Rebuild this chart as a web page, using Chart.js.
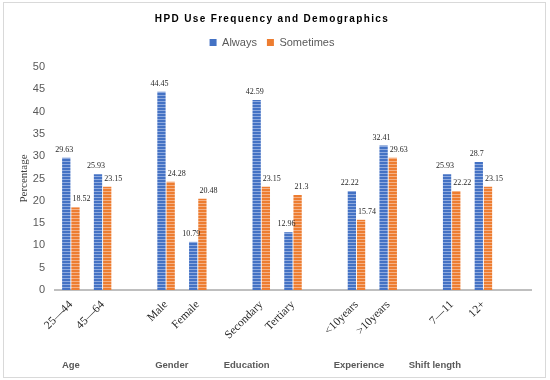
<!DOCTYPE html>
<html>
<head>
<meta charset="utf-8">
<script src="https://cdn.jsdelivr.net/npm/chart.js@4.4.1/dist/chart.umd.min.js"></script>
<style>
  body { margin: 0; background: #fff; }
  #wrap { position: relative; width: 550px; height: 380px; }
  #frame { position: absolute; left: 3px; top: 2px; width: 541px; height: 374px; border: 1px solid #d9d9d9; pointer-events: none; }
</style>
</head>
<body>
<div id="wrap">
  <canvas id="myChart" width="550" height="380"></canvas>
  <div id="frame"></div>
</div>
<script>
// data
const categories = ['25—44', '45—64', '', 'Male', 'Female', '', 'Secondary', 'Tertiary', '', '<10years', '>10years', '', '7—11', '12+', ''];
const always = [29.63, 25.93, null, 44.45, 10.79, null, 42.59, 12.96, null, 22.22, 32.41, null, 25.93, 28.7, null];
const sometimes = [18.52, 23.15, null, 24.28, 20.48, null, 23.15, 21.3, null, 15.74, 29.63, null, 22.22, 23.15, null];
const groupNames = ['Age', 'Gender', 'Education', 'Experience', 'Shift length'];
const yMax = 50;
const yStep = 5;

// where the group captions sit, in category units
const groupAt = [0, 3.18, 5.54, 9.08, 11.47];

const BLUE = '#4472C4';
const ORANGE = '#ED7D31';

// horizontal stripe fill, like the office chart texture
function stripes(base, line) {
  const c = document.createElement('canvas');
  c.width = 4; c.height = 3;
  const g = c.getContext('2d');
  g.fillStyle = base;
  g.fillRect(0, 0, 4, 3);
  g.fillStyle = line;
  g.fillRect(0, 2, 4, 1);
  return g.createPattern(c, 'repeat');
}

const titlePlugin = {
  id: 'hpdTitle',
  beforeInit(chart) {
    // push the plot down a bit below the legend
    const fit = chart.legend.fit;
    chart.legend.fit = function () {
      fit.bind(chart.legend)();
      this.height += 9;
    };
  },
  afterDraw(chart) {
    const ctx = chart.ctx;
    ctx.save();
    ctx.font = 'bold 10px "Liberation Sans", sans-serif';
    ctx.fillStyle = '#000';
    ctx.textAlign = 'center';
    ctx.textBaseline = 'middle';
    ctx.letterSpacing = '1.35px';
    ctx.fillText('HPD Use Frequency and Demographics', 272, 19);
    ctx.restore();
  }
};

const valueLabels = {
  id: 'valueLabels',
  afterDatasetsDraw(chart) {
    const ctx = chart.ctx;
    ctx.save();
    ctx.font = '8px "Liberation Serif", serif';
    ctx.fillStyle = '#262626';
    ctx.textBaseline = 'middle';
    chart.data.datasets.forEach((ds, i) => {
      chart.getDatasetMeta(i).data.forEach((bar, j) => {
        const v = ds.data[j];
        if (v == null) return;
        if (i === 0) {
          ctx.textAlign = 'center';
          ctx.fillText(String(v), bar.x - 2, bar.y - 8);
        } else {
          ctx.textAlign = 'left';
          ctx.fillText(String(v), bar.x - 3, bar.y - 8);
        }
      });
    });
    ctx.restore();
  }
};

const groupCaptions = {
  id: 'groupCaptions',
  afterDraw(chart) {
    const ctx = chart.ctx;
    const x = chart.scales.x;
    ctx.save();
    ctx.font = 'bold 9.5px "Liberation Sans", sans-serif';
    ctx.fillStyle = '#595959';
    ctx.textAlign = 'center';
    ctx.textBaseline = 'middle';
    groupNames.forEach((name, i) => {
      ctx.fillText(name, x.getPixelForValue(groupAt[i]), 365);
    });
    ctx.restore();
  }
};

const ctx0 = document.getElementById('myChart').getContext('2d');

const data = {
  labels: categories,
  datasets: [{
    label: 'Always',
    data: always,
    backgroundColor: stripes(BLUE, '#8eaadf'),
    categoryPercentage: 0.58,
    barPercentage: 0.9
  }, {
    label: 'Sometimes',
    data: sometimes,
    backgroundColor: stripes(ORANGE, '#f5b185'),
    categoryPercentage: 0.58,
    barPercentage: 0.9
  }]
};

const config = {
  type: 'bar',
  data,
  options: {
    responsive: false,
    animation: false,
    layout: { padding: { top: 27, left: 13, right: 19, bottom: 0 } },
    scales: {
      x: {
        grid: { display: true, drawOnChartArea: false, drawTicks: false },
        border: { display: true, color: '#bfbfbf', width: 2 },
        ticks: {
          autoSkip: false,
          maxRotation: 45,
          minRotation: 45,
          padding: 8,
          color: '#262626',
          font: { family: '"Liberation Serif", serif', size: 11.5 }
        },
        afterFit(s) { s.height = 90; }
      },
      y: {
        min: 0,
        max: yMax,
        grid: { display: false, drawTicks: false },
        border: { display: false },
        ticks: {
          stepSize: yStep,
          padding: 10,
          color: '#595959',
          font: { family: '"Liberation Sans", sans-serif', size: 11 }
        },
        title: {
          display: true,
          text: 'Percentage',
          color: '#404040',
          padding: { top: 5, bottom: 0 },
          font: { family: '"Liberation Serif", serif', size: 11 }
        },
        afterFit(s) { s.width = 42; }
      }
    },
    plugins: {
      legend: {
        position: 'top',
        labels: {
          boxWidth: 7,
          boxHeight: 7,
          padding: 10,
          color: '#595959',
          font: { family: '"Liberation Sans", sans-serif', size: 11 },
          generateLabels(chart) {
            const items = Chart.defaults.plugins.legend.labels.generateLabels(chart);
            items[0].fillStyle = BLUE;
            items[1].fillStyle = ORANGE;
            items.forEach(it => { it.lineWidth = 0; it.strokeStyle = 'transparent'; });
            return items;
          }
        }
      },
      tooltip: { enabled: false }
    }
  },
  plugins: [titlePlugin, valueLabels, groupCaptions]
};

const myChart = new Chart(ctx0, config);
</script>
</body>
</html>
